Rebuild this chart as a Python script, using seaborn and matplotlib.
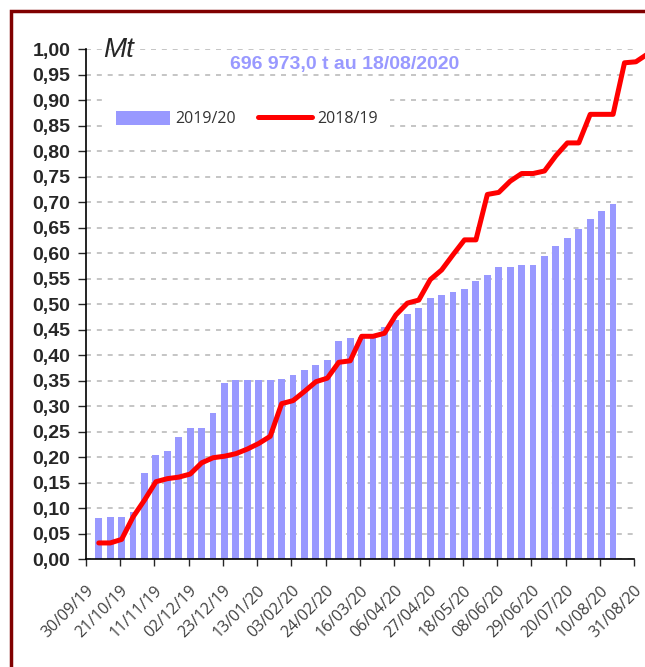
import numpy as np
import pandas as pd
import seaborn as sns
import matplotlib.pyplot as plt
from matplotlib.patches import Patch, Rectangle
from matplotlib.lines import Line2D
from matplotlib.ticker import FuncFormatter


# weekly cumulative tonnage (Mt)
bar_dates = pd.date_range('2019-10-08', periods=46, freq='7D')
bars_2019_20 = [0.080, 0.083, 0.083, 0.093, 0.170, 0.205, 0.212, 0.240, 0.258, 0.258,
                0.286, 0.346, 0.352, 0.352, 0.352, 0.351, 0.353, 0.361, 0.371, 0.381,
                0.390, 0.427, 0.433, 0.435, 0.436, 0.455, 0.468, 0.481, 0.492, 0.512,
                0.518, 0.524, 0.530, 0.545, 0.558, 0.573, 0.573, 0.576, 0.576, 0.595,
                0.614, 0.630, 0.648, 0.667, 0.682, 0.697]

line_dates = pd.date_range('2019-10-08', periods=49, freq='7D')
line_2018_19 = [0.032, 0.032, 0.039, 0.083, 0.116, 0.152, 0.158, 0.161, 0.167, 0.189,
                0.199, 0.202, 0.207, 0.216, 0.227, 0.241, 0.305, 0.311, 0.329, 0.348,
                0.355, 0.386, 0.389, 0.437, 0.437, 0.443, 0.479, 0.502, 0.508, 0.548,
                0.567, 0.597, 0.626, 0.626, 0.715, 0.719, 0.741, 0.756, 0.756, 0.761,
                0.791, 0.816, 0.816, 0.872, 0.872, 0.872, 0.973, 0.975, 0.99]

tick_labels = ['30/09/19', '21/10/19', '11/11/19', '02/12/19', '23/12/19', '13/01/20',
               '03/02/20', '24/02/20', '16/03/20', '06/04/20', '27/04/20', '18/05/20',
               '08/06/20', '29/06/20', '20/07/20', '10/08/20', '31/08/20']

start = pd.Timestamp('2019-09-30')
bar_days = (bar_dates - start).days.values
line_days = (line_dates - start).days.values
tick_days = (pd.to_datetime(tick_labels, format='%d/%m/%y') - start).days.values

BAR_COLOR = '#9999FF'

sns.set_style('white')
plt.rcParams['font.family'] = ['Liberation Sans', 'DejaVu Sans']

fig = plt.figure(figsize=(6.45, 6.67), dpi=100)
ax = fig.add_axes([0.1329, 0.1615, 0.8505, 0.765])

sns.barplot(x=bar_days, y=bars_2019_20, native_scale=True, width=0.6,
            color=BAR_COLOR, saturation=1, errorbar=None, linewidth=0, ax=ax)
sns.lineplot(x=line_days, y=line_2018_19, color='#FF0000', lw=3.6,
             clip_on=False, zorder=4, ax=ax)

ax.set_xlim(0, tick_days[-1])
ax.set_ylim(0, 1)
ax.set_yticks(np.arange(0, 1.0001, 0.05))
ax.yaxis.set_major_formatter(FuncFormatter(lambda v, p: f'{v:.2f}'.replace('.', ',')))
ax.set_xticks(tick_days)
ax.set_xticklabels(tick_labels, rotation=45, ha='right', va='top',
                   rotation_mode='anchor', fontsize=11.5, color='#404040',
                   family='Open Sans')
for lab in ax.get_yticklabels():
    lab.set_fontweight('bold')
    lab.set_fontsize(14)

ax.tick_params(axis='y', direction='out', length=6, width=1, pad=5, left=True)
ax.tick_params(axis='x', direction='out', length=5, width=1, pad=12, bottom=True)
ax.yaxis.grid(True, color='#BBBBBB', linestyle=(0, (3, 3.5)), lw=1.2)
ax.xaxis.grid(False)
ax.set_axisbelow(True)
for side in ['top', 'right']:
    ax.spines[side].set_visible(False)
for side in ['left', 'bottom']:
    ax.spines[side].set_color('black')
    ax.spines[side].set_linewidth(1.2)
ax.set_xlabel('')
ax.set_ylabel('')

handles = [Patch(facecolor=BAR_COLOR, edgecolor='none'),
           Line2D([], [], color='#FF0000', lw=3.6)]
leg = ax.legend(handles, ['2019/20', '2018/19'], ncol=2, loc='center left',
                bbox_to_anchor=(95 / 645, 1 - 119 / 667), bbox_transform=fig.transFigure,
                frameon=True, facecolor='white', edgecolor='none', framealpha=1,
                fancybox=False, handlelength=3.4, handleheight=0.95,
                handletextpad=0.3, columnspacing=1.4, borderpad=0.8,
                prop={'family': 'Open Sans', 'size': 11.5})
for t in leg.get_texts():
    t.set_color('#333333')

fig.text(0.535, 1 - 64 / 667, '696 973,0 t au 18/08/2020', ha='center', va='center',
         color=BAR_COLOR, fontweight='bold', fontsize=14)
fig.text(103 / 645, 1 - 57 / 667, 'Mt', style='italic', fontsize=20,
         ha='left', va='baseline')

fig.patches.append(Rectangle((10.5 / 645, -0.1), 1.2, (667 - 11) / 667 + 0.1,
                             transform=fig.transFigure, fill=False,
                             edgecolor='#800000', lw=2.5, clip_on=False))

fig.savefig('out.png', dpi=100)
